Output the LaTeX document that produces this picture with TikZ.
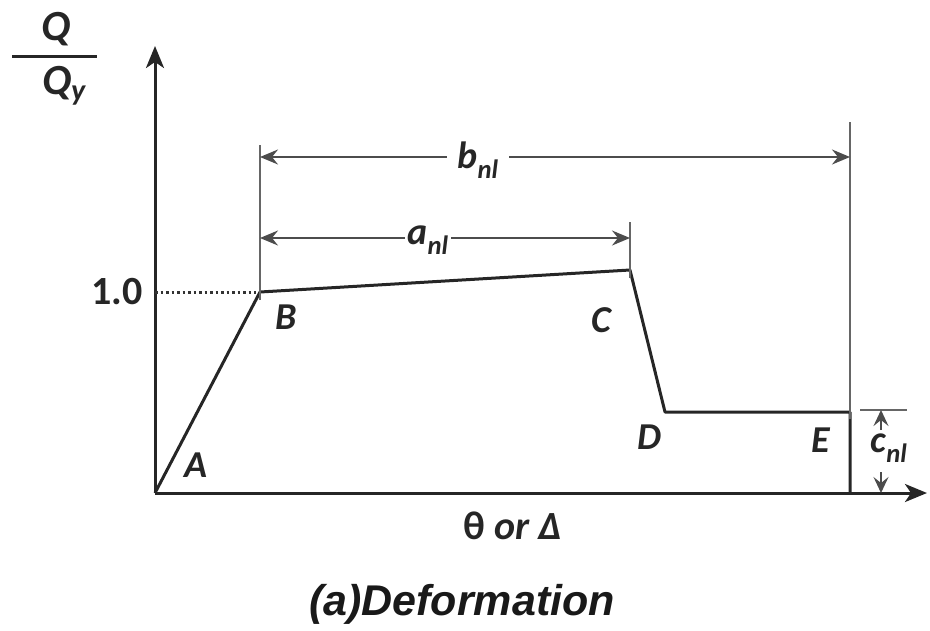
\documentclass[tikz,border=0pt]{standalone}
\usepackage{fontspec}
\setmainfont{Carlito}
\newfontfamily\capfont{Liberation Sans}
\usetikzlibrary{arrows.meta}
\begin{document}
\begin{tikzpicture}[x=1pt,y=-1pt,
  curve/.style={line width=3pt, draw=black!85, line join=round},
  dimline/.style={line width=2pt, draw=black!70},
  ext/.style={line width=2pt, draw=black!60},
  tip/.style={-{Stealth[length=22pt,width=18pt,inset=6pt]}},
  dtip/.style={{Stealth[length=18pt,width=15pt,inset=6pt]}-{Stealth[length=18pt,width=15pt,inset=6pt]}},
  ctip/.style={-{Stealth[length=16pt,width=15pt,inset=6pt]}},
  lbl/.style={font=\fontsize{38}{42}\selectfont\bfseries\itshape, text=black!85, inner sep=1pt},
  dlbl/.style={lbl, fill=white, inner sep=4pt}]
\useasboundingbox (0,0) rectangle (930,630);
% key points
\coordinate (O) at (155,493);
\coordinate (B) at (260,292);
\coordinate (C) at (630,270);
\coordinate (D) at (665,412);
\coordinate (E) at (850,412);
\coordinate (Eb) at (850,493);
\coordinate (Ytop) at (155,46);
\coordinate (Xend) at (927,493);
\coordinate (Y10) at (155,292);
% axes
\draw[curve, tip] (O) -- (Ytop);
\draw[curve, tip] (O) -- (Xend);
% backbone curve
\draw[curve] (O) -- (B) -- (C) -- (D) -- (E) -- (Eb);
% dotted level
\draw[line width=3pt, dash pattern=on 2.5pt off 3pt, draw=black!80] (Y10) -- ([xshift=-4pt]B);
% extension lines
\coordinate (Bt) at (260,145);
\coordinate (Ct) at (630,222);
\coordinate (Et) at (850,122);
\draw[ext] ([yshift=-8pt]B) -- (Bt);
\draw[ext] ([yshift=-8pt]C) -- (Ct);
\draw[ext] ([yshift=-7pt]E) -- (Et);
% dimension b
\coordinate (b1) at (260,157);
\coordinate (b2) at (850,157);
\draw[dimline, dtip] (b1) -- (b2);
\node[dlbl, inner xsep=10pt] (bl) at (478,160) {b\textsubscript{nl}};
% dimension a
\coordinate (a1) at (260,238);
\coordinate (a2) at (630,238);
\draw[dimline, dtip] (a1) -- (a2);
\node[dlbl, inner sep=2pt] (al) at (428,240) {a\textsubscript{nl}};
% dimension c
\coordinate (ct1) at (860,410);
\coordinate (ct2) at (907,410);
\draw[ext] (ct1) -- (ct2);
\node[lbl] (cl) at (889,448) {c\textsubscript{nl}};
\coordinate (cu) at (881,410);
\coordinate (cd) at (881,493);
\draw[dimline, ctip] (881,430) -- (cu);
\draw[dimline, ctip] (881,472) -- (cd);
% point labels
\node[lbl] (lA) at (196,465) {A};
\node[lbl] (lB) at (286,317) {B};
\node[lbl] (lC) at (601,320) {C};
\node[lbl] (lD) at (649,437) {D};
\node[lbl] (lE) at (821,440) {E};
\node[lbl, font=\fontsize{40}{44}\selectfont\bfseries] (l10) at (117,292) {1.0};
% axis labels
\coordinate (f1) at (12,56);
\coordinate (f2) at (97,56);
\draw[line width=3pt, draw=black!85] (f1) -- (f2);
\node[lbl, font=\fontsize{43}{46}\selectfont\bfseries\itshape] (Q) at (56,29) {Q};
\node[lbl, font=\fontsize{43}{46}\selectfont\bfseries\itshape] (Qy) at (64,86) {Q\textsubscript{y}};
\node[lbl, font=\fontsize{40}{44}\selectfont\bfseries] (xl) at (513,526) {θ \itshape or Δ};
\node[font=\capfont\fontsize{43}{46}\selectfont\bfseries\itshape, text=black!90, inner sep=0pt] (cap) at (462,604) {(a)Deformation};
\end{tikzpicture}
\end{document}
